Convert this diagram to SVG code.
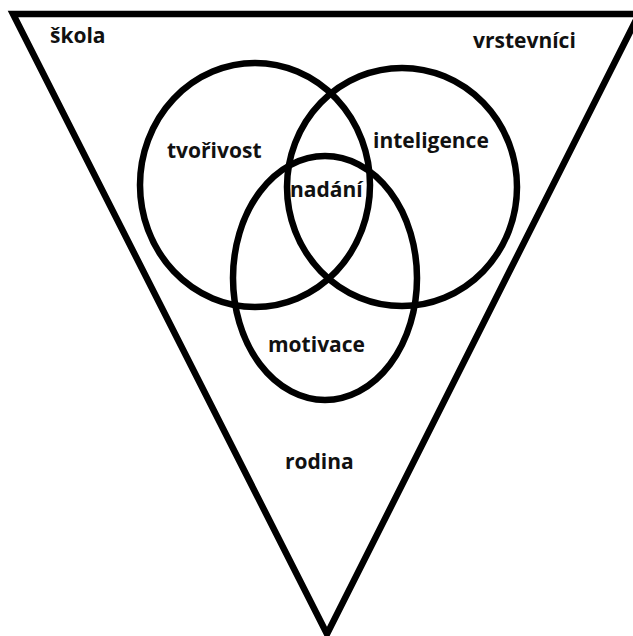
<svg xmlns="http://www.w3.org/2000/svg" width="633" height="636" viewBox="0 0 633 636">
<style>
.shape{fill:none;stroke:#000;stroke-width:6.5}
.lbl{font-family:"Open Sans","Noto Sans",sans-serif;font-weight:700;font-size:21px;fill:#111}
</style>
<rect width="633" height="636" fill="#fff"/>
<g id="triangle">
<polygon class="shape" points="13,14 639,14 327,634"/>
</g>
<g id="circles">
<ellipse id="tvorivost-circle" class="shape" cx="255" cy="185" rx="115" ry="122"/>
<ellipse id="inteligence-circle" class="shape" cx="402" cy="187" rx="115" ry="119"/>
<ellipse id="motivace-circle" class="shape" cx="325" cy="278" rx="92" ry="122"/>
</g>
<g id="labels">
<text id="skola" class="lbl" x="50" y="43">škola</text>
<text id="vrstevnici" class="lbl" x="473" y="48">vrstevníci</text>
<text id="tvorivost" class="lbl" x="167" y="158">tvořivost</text>
<text id="inteligence" class="lbl" x="373" y="148">inteligence</text>
<text id="nadani" class="lbl" x="290" y="197">nadání</text>
<text id="motivace" class="lbl" x="268" y="352">motivace</text>
<text id="rodina" class="lbl" x="285" y="469">rodina</text>
</g>
</svg>
